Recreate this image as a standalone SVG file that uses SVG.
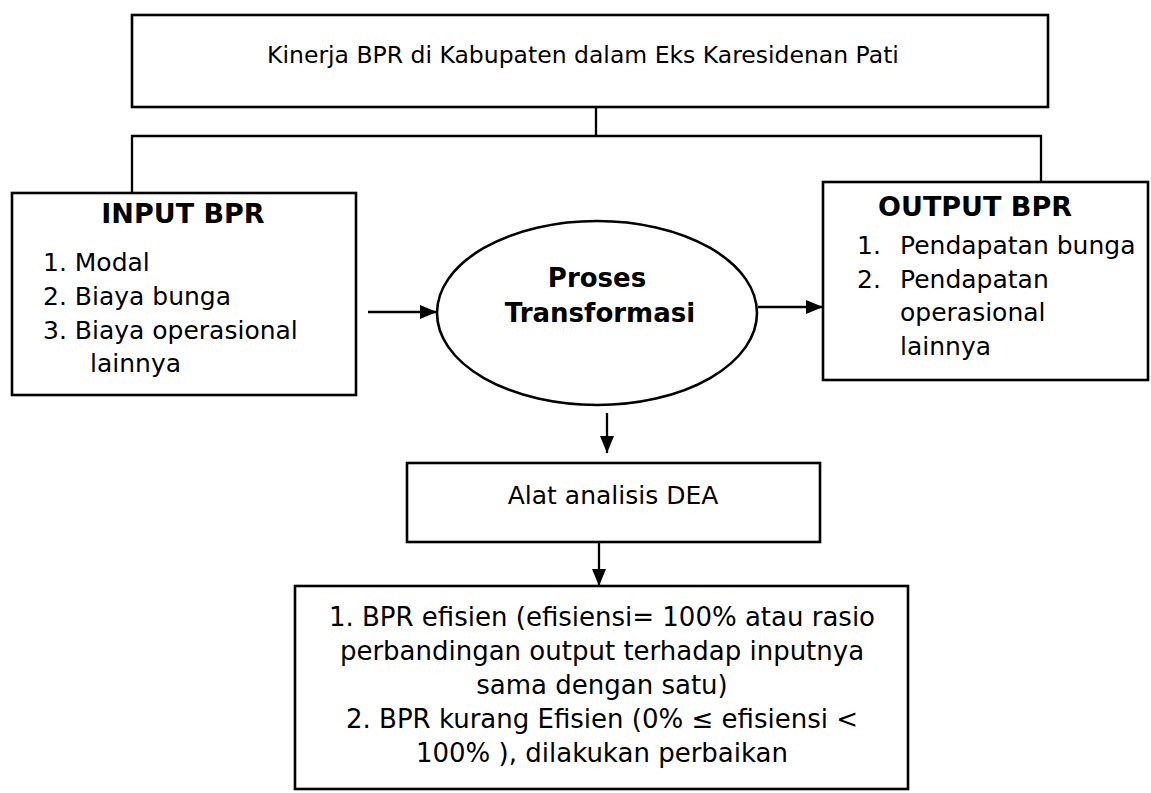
<svg xmlns="http://www.w3.org/2000/svg" width="1151" height="793" viewBox="0 0 1151 793">
<defs>
<style>
.box{fill:#fff;stroke:#000;stroke-width:2.6}
.ln{fill:none;stroke:#000;stroke-width:2.3}
.t{font-family:"DejaVu Sans","Liberation Sans",sans-serif;font-size:25px;fill:#000}
.b{font-weight:bold;font-size:26px}
.c{text-anchor:middle}
.m{font-size:26px}
</style>
<marker id="ah" viewBox="0 0 17 14" refX="17" refY="7" markerWidth="17" markerHeight="14" markerUnits="userSpaceOnUse" orient="auto">
<path d="M0,0 L17,7 L0,14 Z" fill="#000"/>
</marker>
</defs>
<rect width="1151" height="793" fill="#fff"/>
<g id="connectors">
<path class="ln" d="M596,107 V136"/>
<path class="ln" d="M132,193 V136 H1041 V182"/>
<path class="ln" d="M368,312 H437" marker-end="url(#ah)"/>
<path class="ln" d="M758,307 H823" marker-end="url(#ah)"/>
<path class="ln" d="M607,413 V453" marker-end="url(#ah)"/>
<path class="ln" d="M599,542 V586" marker-end="url(#ah)"/>
</g>
<g id="title">
<rect class="box" x="132" y="15" width="916" height="92"/>
<text class="t c" x="583" y="63" style="font-size:23.5px">Kinerja BPR di Kabupaten dalam Eks Karesidenan Pati</text>
</g>
<g id="input">
<rect class="box" x="12" y="193" width="344" height="202"/>
<text class="t b c" x="183" y="223" style="font-size:27px">INPUT BPR</text>
<text class="t" x="43" y="271">1. Modal</text>
<text class="t" x="43" y="305">2. Biaya bunga</text>
<text class="t" x="43" y="339">3. Biaya operasional</text>
<text class="t" x="90" y="372">lainnya</text>
</g>
<g id="proses">
<ellipse class="box" cx="597" cy="313" rx="160" ry="92"/>
<text class="t b c" x="597" y="287">Proses</text>
<text class="t b c" x="600" y="322">Transformasi</text>
</g>
<g id="output">
<rect class="box" x="823" y="182" width="325" height="198"/>
<text class="t b c" x="975" y="216" style="font-size:27px">OUTPUT BPR</text>
<text class="t" x="857" y="254">1.<tspan x="900">Pendapatan bunga</tspan></text>
<text class="t" x="857" y="288">2.<tspan x="900">Pendapatan</tspan></text>
<text class="t" x="900" y="321">operasional</text>
<text class="t" x="900" y="355">lainnya</text>
</g>
<g id="dea">
<rect class="box" x="407" y="463" width="413" height="79"/>
<text class="t c" x="613" y="504">Alat analisis DEA</text>
</g>
<g id="hasil">
<rect class="box" x="295" y="586" width="613" height="203"/>
<text class="t c m" x="602" y="626">1. BPR efisien (efisiensi= 100% atau rasio</text>
<text class="t c m" x="602" y="660">perbandingan output terhadap inputnya</text>
<text class="t c m" x="602" y="694">sama dengan satu)</text>
<text class="t c m" x="602" y="728">2. BPR kurang Efisien (0% ≤ efisiensi &lt;</text>
<text class="t c m" x="602" y="762">100% ), dilakukan perbaikan</text>
</g>
</svg>
